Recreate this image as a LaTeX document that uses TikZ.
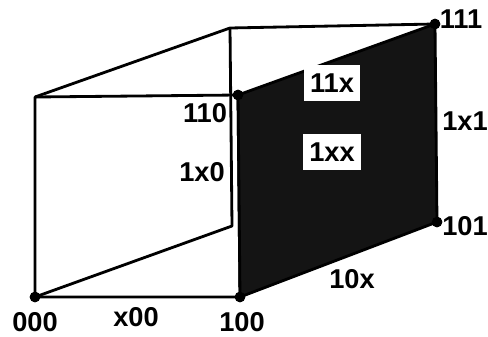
\documentclass[tikz,border=0pt]{standalone}
\usepackage{fontspec}
\setmainfont{Liberation Sans}
\usetikzlibrary{positioning, calc}

\begin{document}
\begin{tikzpicture}[
  edge/.style={line width=1.6pt, line join=round},
  vdot/.style={circle, fill=black, inner sep=0pt, minimum size=6pt},
  lbl/.style={font=\fontsize{15.5}{17}\selectfont\bfseries, inner sep=1pt},
  facelbl/.style={lbl, fill=white, inner xsep=3.5pt, inner ysep=5pt},
  shadeface/.style={fill=black!92, draw=black, line width=1.6pt, line join=round}
]
\useasboundingbox (0,0) rectangle (9.76,6.72);
% cube corners
\coordinate (c010) at (0.70,4.78);
\coordinate (c011) at (4.60,6.16);
\coordinate (c001) at (4.64,2.20);
\node[vdot] (n000) at (0.70,0.78) {};
\node[vdot] (n100) at (4.80,0.78) {};
\node[vdot] (n110) at (4.76,4.82) {};
\node[vdot] (n111) at (8.70,6.24) {};
\node[vdot] (n101) at (8.74,2.28) {};
% edges
\draw[edge] (n000.center) -- (n100.center) -- (n110.center) -- (c010) -- cycle;
\draw[edge] (c010) -- (c011) -- (n111.center);
\draw[edge] (c011) -- (c001) -- (n000.center);
% shaded face
\filldraw[shadeface] (n100.center) -- (n110.center) -- (n111.center) -- (n101.center) -- cycle;
\node[vdot] at (n000) {};
\node[vdot] at (n100) {};
\node[vdot] at (n110) {};
\node[vdot] at (n111) {};
\node[vdot] at (n101) {};
% labels
\node[lbl] (l000) at ($(n000)+(0,-0.50)$) {000};
\node[lbl] (l100) at ($(n100)+(0.04,-0.50)$) {100};
\node[lbl] (lx00) at (2.72,0.38) {x00};
\node[lbl] (l110) at ($(n110)+(-0.66,-0.36)$) {110};
\node[lbl] (l1x0) at (4.04,3.28) {1x0};
\node[lbl] (l111) at ($(n111)+(0.52,0.10)$) {111};
\node[lbl] (l101) at ($(n101)+(0.56,-0.08)$) {101};
\node[lbl] (l1x1) at (9.30,4.30) {1x1};
\node[lbl] (l10x) at (7.04,1.14) {10x};
\node[facelbl] (l11x) at (6.64,5.06) {11x};
\node[facelbl] (l1xx) at (6.64,3.68) {1xx};
\end{tikzpicture}
\end{document}
